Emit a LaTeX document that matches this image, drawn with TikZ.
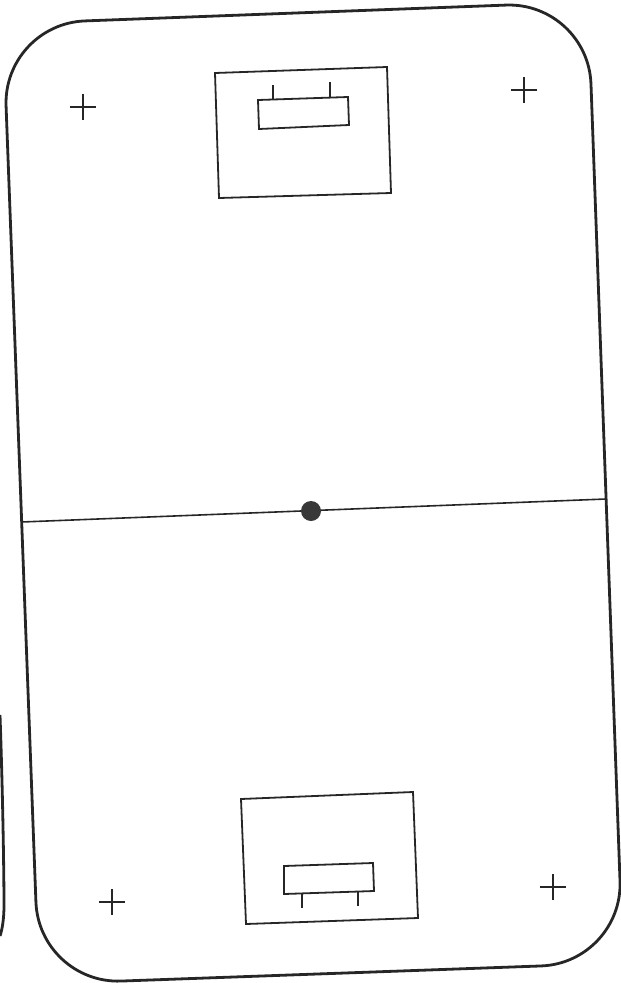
\documentclass[tikz,border=0pt]{standalone}
\begin{document}
\begin{tikzpicture}[x=1pt,y=-1pt,
  outerline/.style={line width=2.8pt,black!85},
  boxline/.style={line width=1.8pt,black!85},
  thinline/.style={line width=1.6pt,black!85},
  cross/.style={line width=2pt,black!85}]
\useasboundingbox (0,0) rectangle (621,983);
% outer field
\coordinate (TL) at (3,24);
\coordinate (TR) at (588,2);
\coordinate (BR) at (623,963);
\coordinate (BL) at (39,984);
\draw[outerline,rounded corners=82pt] (TL) -- (TR) -- (BR) -- (BL) -- cycle;
% neighbour page edge at left
\draw[outerline] (0,715) .. controls (3,800) and (4,880) .. (4,905) .. controls (4,920) and (2,930) .. (0,936);
% centre line and spot
\coordinate (ML) at (21.5,522);
\coordinate (MR) at (606,499);
\draw[thinline] (ML) -- (MR);
\fill[black!78] (311,511) circle (10);
% top goal area
\draw[boxline] (215,73) -- (387,67) -- (391,193) -- (219,198) -- cycle;
\draw[boxline] (258,100) -- (348,97) -- (349,125) -- (259,129) -- cycle;
\draw[boxline] (273,85) -- (273,99.5);
\draw[boxline] (330,82) -- (330,97.5);
% bottom goal area
\draw[boxline] (241,799) -- (413,792) -- (418,918) -- (246,924) -- cycle;
\draw[boxline] (284,866) -- (373,863) -- (374,891) -- (284,894) -- cycle;
\draw[boxline] (302,894) -- (302,908);
\draw[boxline] (358,891) -- (358,906);
% corner crosses
\foreach \cx/\cy in {83/107, 524/90, 112/902, 553/887}{
  \draw[cross] (\cx-13,\cy) -- (\cx+13,\cy);
  \draw[cross] (\cx,\cy-13) -- (\cx,\cy+13);
}
\end{tikzpicture}
\end{document}
